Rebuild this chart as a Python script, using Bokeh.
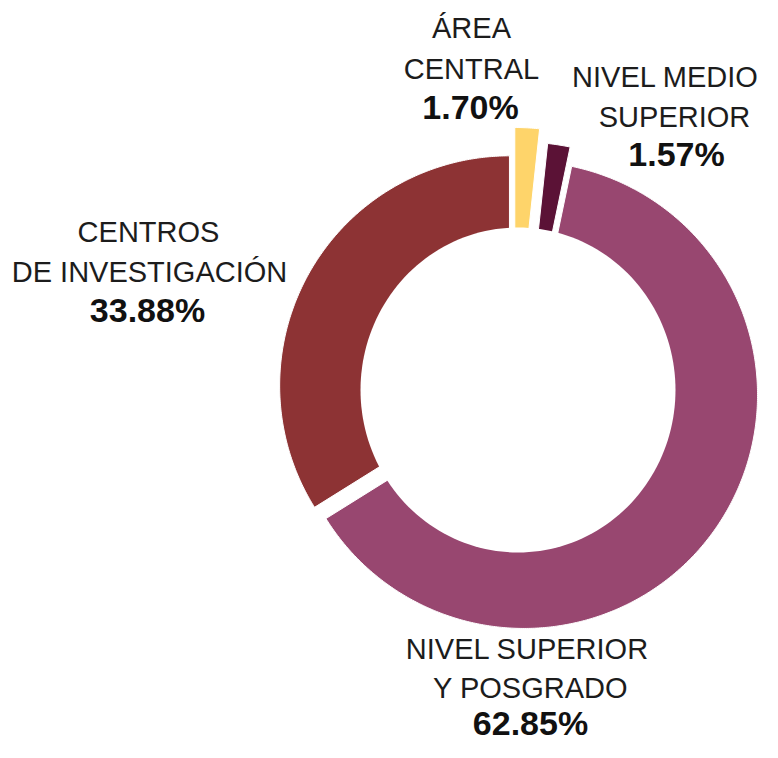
import math
from bokeh.plotting import figure
from bokeh.models import Range1d, ColumnDataSource
from bokeh.core.properties import value
from bokeh.embed import file_html
from bokeh.resources import INLINE

# ---- data ----
categories = ["Área central", "Nivel medio superior", "Nivel superior y posgrado", "Centros de investigación"]
shares = [1.70, 1.57, 62.85, 33.88]
label_lines = [["Área", "central"], ["Nivel medio", "superior"], ["Nivel superior", "y posgrado"], ["Centros", "de investigación"]]
colors = ["#FED46A", "#5B1236", "#984770", "#8D3334"]

# ---- style / geometry (picture pixel coordinates) ----
CX, CY = 515.0, 388.5
explode = [28.5, 18.0, 10.4, 6.9]          # slice pull-out distance
explode_turn = [4.5, -16.0, 0.0, 0.0]      # pull-out direction relative to slice middle (deg)
outer_r = [233.0, 230.5, 233.5, 229.8]
HOLE_X, HOLE_Y, HOLE_RX, HOLE_RY = 517.5, 389.5, 157.5, 162.5

W, H = 762, 742
p = figure(width=W, height=H, output_backend="svg", toolbar_location=None,
           x_range=Range1d(0, W), y_range=Range1d(H, 0),
           x_axis_type=None, y_axis_type=None, min_border=0,
           outline_line_color=None, background_fill_color="white",
           border_fill_color="white")
p.grid.visible = False

total = sum(shares)
xs, ys = [], []
start = 90.0
for v, off, turn, R in zip(shares, explode, explode_turn, outer_r):
    span = v / total * 360.0
    a0, a1 = start, start - span
    mid = math.radians((a0 + a1) / 2 + turn)
    ax = CX + off * math.cos(mid)
    ay = CY - off * math.sin(mid)
    n = max(4, int(span * 2))
    px, py = [ax], [ay]
    for i in range(n + 1):
        a = math.radians(a0 + (a1 - a0) * i / n)
        px.append(ax + R * math.cos(a))
        py.append(ay - R * math.sin(a))
    xs.append(px)
    ys.append(py)
    start = a1

p.patches(xs="xs", ys="ys", fill_color="color", line_color="white", line_width=1,
          source=ColumnDataSource(dict(xs=xs, ys=ys, color=colors, cat=categories)))

# white hole
hx = [HOLE_X + HOLE_RX * math.cos(math.radians(t)) for t in range(0, 360, 2)]
hy = [HOLE_Y - HOLE_RY * math.sin(math.radians(t)) for t in range(0, 360, 2)]
p.patch(hx, hy, fill_color="white", line_color=None)

# ---- labels ----
# (line1 centre x, line1 y, line2 centre x, line2 y, pct centre x, pct y)
label_pos = [
    (471, 27, 471, 68, 470, 106),
    (665, 76, 674, 116, 676, 153),
    (527, 648, 530, 687, 530, 722),
    (148, 231, 149, 271, 147, 309),
]
tx, ty, tt = [], [], []
px_, py_, pt = [], [], []
for lines, v, pos in zip(label_lines, shares, label_pos):
    tx += [pos[0], pos[2]]
    ty += [pos[1], pos[3]]
    tt += [lines[0].upper(), lines[1].upper()]
    px_.append(pos[4])
    py_.append(pos[5])
    pt.append(f"{v:.2f}%")

p.text(x=tx, y=ty, text=tt, text_align="center", text_baseline="alphabetic",
       text_font=value("Liberation Sans"), text_font_size="29px", text_color="#1c1c1c")
p.text(x=px_, y=py_, text=pt, text_align="center", text_baseline="alphabetic",
       text_font=value("Liberation Sans"), text_font_size="34px", text_font_style="bold",
       text_color="#111111")

open("out.html", "w").write(file_html(p, INLINE))
